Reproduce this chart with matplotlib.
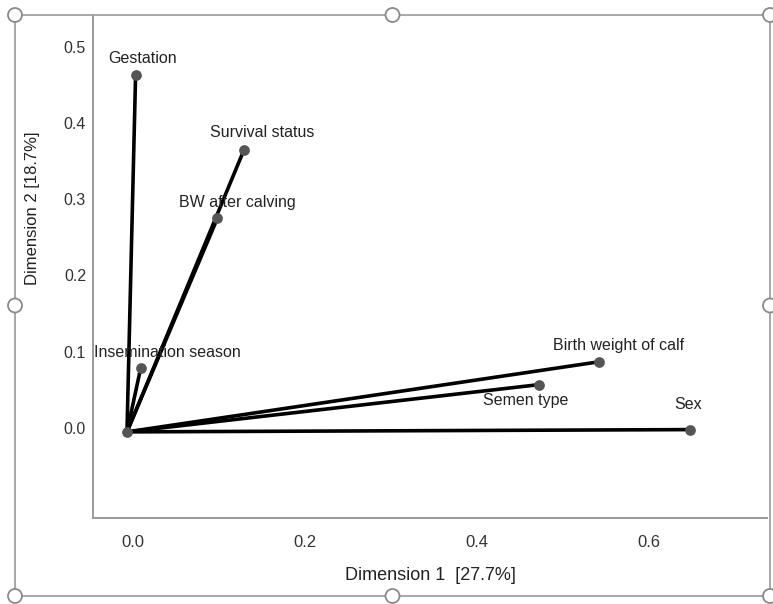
import matplotlib.pyplot as plt
import matplotlib.transforms as mtransforms
from matplotlib.patches import Rectangle, Ellipse

# discrimination measures
variables = ["Gestation", "Survival status", "BW after calving", "Insemination season",
             "Birth weight of calf", "Semen type", "Sex"]
dim1 = [0.010, 0.136, 0.105, 0.016, 0.549, 0.479, 0.655]
dim2 = [0.468, 0.370, 0.280, 0.084, 0.092, 0.062, 0.003]

x_ticks = [0.0, 0.2, 0.4, 0.6]
y_ticks = [0.0, 0.1, 0.2, 0.3, 0.4, 0.5]

# label offsets in pixels
label_offsets = [(7, 17), (18, 17), (20, 16), (27, 15), (19, 16), (-13, -16), (-2, 25)]

plt.rcParams['font.family'] = ['Liberation Sans', 'DejaVu Sans']

fig = plt.figure(figsize=(7.73, 6.04), dpi=100)
W, H = 773, 604
ax = fig.add_axes([93 / W, 1 - 518 / H, 674 / W, 503 / H])

for x, y in zip(dim1, dim2):
    ax.plot([0, x], [0, y], color='black', lw=2.6, solid_capstyle='round', zorder=2)
ax.scatter(dim1, dim2, s=45, color='#555555', zorder=3)
ax.scatter([0], [0], s=45, color='#555555', zorder=3)

for name, x, y, off in zip(variables, dim1, dim2, label_offsets):
    ax.annotate(name, (x, y), xytext=off, textcoords='offset pixels',
                ha='center', va='center', fontsize=11.5, color='#222222')

ax.set_xlim(-0.0395, 0.744)
ax.set_ylim(-0.113, 0.547)
ax.set_xticks(x_ticks)
ax.set_yticks(y_ticks)
ax.set_xticklabels([f"{v:.1f}" for v in x_ticks])
ax.set_yticklabels([f"{v:.1f}" for v in y_ticks])
ax.tick_params(axis='x', length=0, pad=12, labelsize=12, labelcolor='#333333')
ax.tick_params(axis='y', length=0, pad=5, labelsize=11.5, labelcolor='#333333')

# labels are drawn a few pixels off their ticks in the original
for lab in ax.get_xticklabels():
    lab.set_transform(lab.get_transform() + mtransforms.ScaledTranslation(6 / 100, 0, fig.dpi_scale_trans))
for lab in ax.get_yticklabels():
    lab.set_transform(lab.get_transform() + mtransforms.ScaledTranslation(0, 4 / 100, fig.dpi_scale_trans))

for side in ['top', 'right']:
    ax.spines[side].set_visible(False)
for side in ['left', 'bottom']:
    ax.spines[side].set_color('#999999')
    ax.spines[side].set_linewidth(1.4)

ax.set_xlabel("Dimension 1  [27.7%]", fontsize=13, color='#222222')
ax.set_ylabel("Dimension 2 [18.7%]", fontsize=12, color='#222222')
ax.xaxis.set_label_coords(0.5, -0.097)
ax.yaxis.set_label_coords(-0.078, 0.616)

# selection frame with handles
fx0, fy0, fx1, fy1 = 15, 15, 770, 596
fig.patches.append(Rectangle((fx0 / W, 1 - fy1 / H), (fx1 - fx0) / W, (fy1 - fy0) / H,
                             transform=fig.transFigure, fill=False, ec='#a0a0a0', lw=1.3))
for hx in [fx0, (fx0 + fx1) / 2, fx1]:
    for hy in [fy0, (fy0 + fy1) / 2, fy1]:
        if hx == (fx0 + fx1) / 2 and hy == (fy0 + fy1) / 2:
            continue
        fig.patches.append(Ellipse((hx / W, 1 - hy / H), 14 / W, 14 / H, transform=fig.transFigure,
                                   fc='white', ec='#8a8a8a', lw=1.3, zorder=5))

fig.savefig("out.png", dpi=100)
